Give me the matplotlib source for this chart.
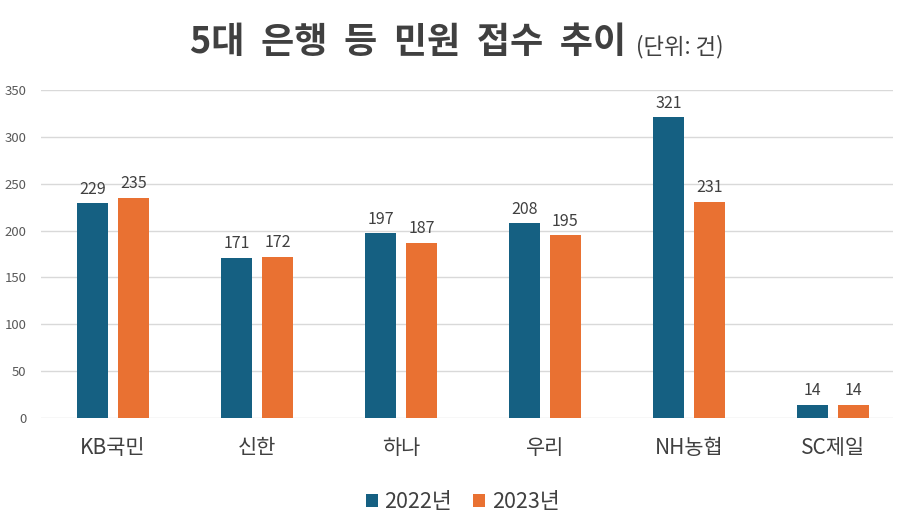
import matplotlib

matplotlib.use("Agg")
import matplotlib.pyplot as plt
import numpy as np

plt.rcParams["font.family"] = ["Noto Sans CJK KR", "DejaVu Sans"]

banks = ["KB국민", "신한", "하나", "우리", "NH농협", "SC제일"]
y2022 = [229, 171, 197, 208, 321, 14]
y2023 = [235, 172, 187, 195, 231, 14]
series_names = ["2022년", "2023년"]
yticks = [0, 50, 100, 150, 200, 250, 300, 350]

BLUE = "#156082"
ORANGE = "#E97132"
TXT = "#404040"

fig = plt.figure(figsize=(9, 5.28), dpi=100)
ax = fig.add_axes([41 / 900, 0.2083, 852 / 900, 0.6212])

x = np.arange(len(banks))
bw = 0.215
off = 0.142
b1 = ax.bar(x - off, y2022, bw, color=BLUE, label=series_names[0])
b2 = ax.bar(x + off, y2023, bw, color=ORANGE, label=series_names[1])
for bars in (b1, b2):
    ax.bar_label(bars, padding=4, fontsize=11.5, color=TXT)

ax.set_xlim(-0.5, -0.5 + 852 / 144)
ax.set_ylim(0, 350)
ax.set_yticks(yticks)
ax.yaxis.grid(True, color="#d9d9d9", lw=1)
ax.set_axisbelow(True)
for s in ax.spines.values():
    s.set_visible(False)
ax.tick_params(axis="y", length=0, pad=10.5, labelsize=9.5, labelcolor="#595959")
ax.tick_params(axis="x", length=0, pad=14, labelsize=15, labelcolor=TXT)
ax.set_xticks(x)
ax.set_xticklabels(banks)

fig.text(190 / 900, 0.8996, "5대  은행  등  민원  접수  추이", fontsize=26, fontweight="bold",
         color=TXT, ha="left", va="baseline")
fig.text(636 / 900, 0.8996, "(단위: 건)", fontsize=16, color=TXT, ha="left", va="baseline")

fig.legend(handles=[b1, b2], loc="center", bbox_to_anchor=(0.514, 1 - 502 / 528), ncol=2,
           frameon=False, fontsize=15.5, handlelength=0.55, handleheight=0.55,
           handletextpad=0.3, columnspacing=1.0, labelcolor=TXT)

fig.savefig("out.png", dpi=100)
